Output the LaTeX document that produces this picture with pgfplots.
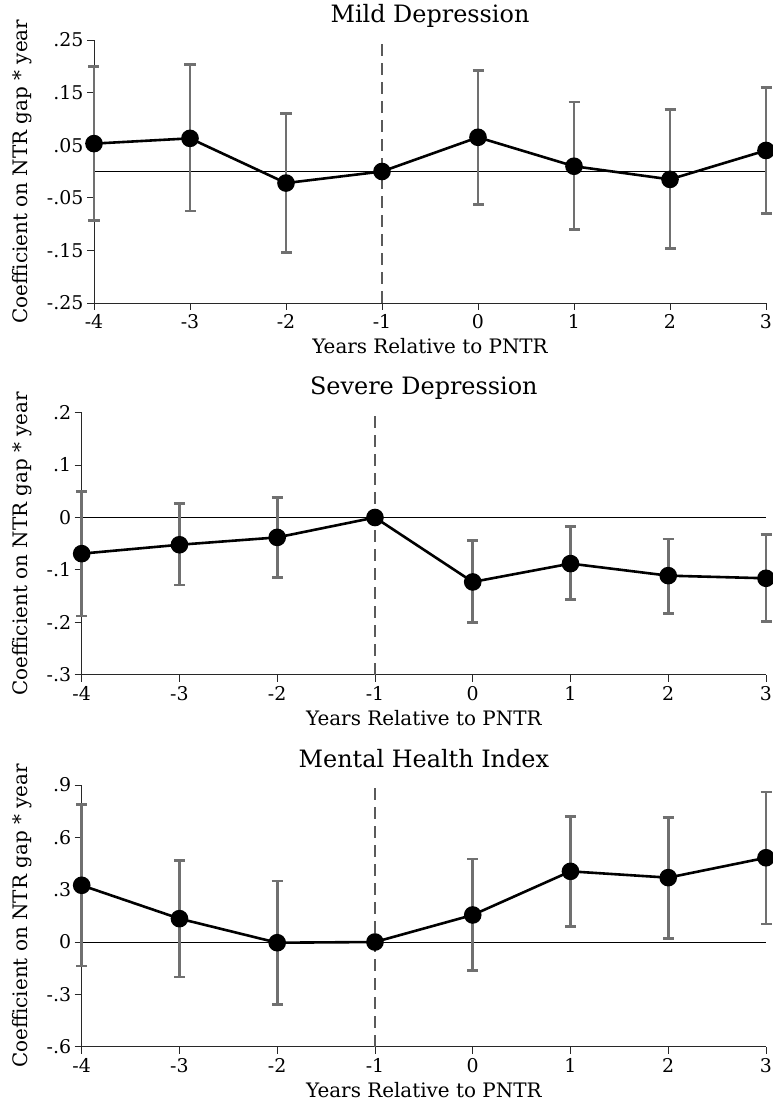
\documentclass[border=0pt]{standalone}
\usepackage{pgfplots}
\pgfplotsset{compat=1.18}
\usepackage{pgfplotstable}
\usepackage{fontspec}
\setmainfont{DejaVu Serif}

\definecolor{errgray}{RGB}{112,112,112}
\definecolor{dashgray}{RGB}{90,90,90}
\definecolor{axisc}{RGB}{40,40,40}

\pgfplotstableread{
x y lo hi
-4 0.053 -0.093 0.200
-3 0.063 -0.075 0.203
-2 -0.022 -0.154 0.110
-1 0.000 0.000 0.000
0 0.065 -0.062 0.192
1 0.010 -0.111 0.132
2 -0.015 -0.146 0.118
3 0.040 -0.080 0.160
}\mild

\pgfplotstableread{
x y lo hi
-4 -0.069 -0.188 0.049
-3 -0.052 -0.129 0.027
-2 -0.038 -0.115 0.038
-1 0.000 0.000 0.000
0 -0.123 -0.201 -0.044
1 -0.088 -0.157 -0.017
2 -0.111 -0.183 -0.041
3 -0.116 -0.199 -0.033
}\severe

\pgfplotstableread{
x y lo hi
-4 0.325 -0.138 0.790
-3 0.134 -0.201 0.468
-2 -0.004 -0.359 0.350
-1 0.000 0.000 0.000
0 0.155 -0.161 0.476
1 0.405 0.090 0.721
2 0.369 0.019 0.713
3 0.483 0.103 0.860
}\mhi

\pgfplotsset{
  panel/.style={
    scale only axis,
    xmin=-4, xmax=3,
    axis x line*=bottom, axis y line*=left,
    axis line style={-, line width=0.9bp, color=axisc},
    tick style={line width=0.9bp, color=axisc},
    tick align=outside,
    major tick length=7bp,
    xtick={-4,-3,-2,-1,0,1,2,3},
    xticklabels={-4,-3,-2,-1,0,1,2,3},
    ticklabel style={font=\fontsize{19}{19}\selectfont},
    xticklabel style={yshift=-1bp},
    clip=false,
    title style={at={(0.5,1)}, anchor=base, yshift=12bp, font=\fontsize{24}{28}\selectfont},
    xlabel style={at={(0.5,0)}, anchor=base, yshift=-51bp, font=\fontsize{20}{22}\selectfont},
    ylabel style={anchor=center, font=\fontsize{20}{22}\selectfont},
    xlabel={Years Relative to PNTR},
    ylabel={Coefficient on NTR gap * year},
  },
  errs/.style={draw=none, mark=none, forget plot,
    error bars/.cd, y dir=both, y explicit,
    error bar style={color=errgray, line width=2.8bp},
    error mark=-,
    error mark options={color=errgray, line width=2.8bp, mark size=5.5bp, rotate=90}},
  coefline/.style={black, line width=2.6bp, mark=*, mark size=7.5bp, mark options={fill=black, draw=black}},
}

\newcommand{\panelplots}[3]{%
  \addplot[black, line width=0.9bp, forget plot] coordinates {(-4,0) (3,0)};
  \addplot[dashgray, line width=1.4bp, dash pattern=on 12bp off 7bp, forget plot] coordinates {(-1,#2) (-1,#3)};
  \addplot[errs] table[x=x, y=y, y error plus expr={\thisrow{hi}-\thisrow{y}}, y error minus expr={\thisrow{y}-\thisrow{lo}}] {#1};
  \addplot[coefline] table[x=x, y=y] {#1};
}

\begin{document}
\begin{tikzpicture}
\path[use as bounding box] (0bp,0bp) rectangle (773bp,1103bp);

% Panel 1
\begin{axis}[panel, at={(94bp,800bp)}, anchor=south west, width=672bp, height=263bp,
  ymin=-0.25, ymax=0.25,
  ytick={-0.25,-0.15,-0.05,0.05,0.15,0.25},
  yticklabels={-.25,-.15,-.05,.05,.15,.25},
  ylabel style={at={(axis description cs:-0.1071,0.5)}},
  title={Mild Depression}]
\panelplots{\mild}{-0.25}{0.25}
\end{axis}

% Panel 2
\begin{axis}[panel, at={(81.7bp,428.3bp)}, anchor=south west, width=684.3bp, height=262bp,
  ymin=-0.3, ymax=0.2,
  ytick={-0.3,-0.2,-0.1,0,0.1,0.2},
  yticklabels={-.3,-.2,-.1,0,.1,.2},
  ylabel style={at={(axis description cs:-0.0872,0.5)}},
  title={Severe Depression}]
\panelplots{\severe}{-0.3}{0.2}
\end{axis}

% Panel 3
\begin{axis}[panel, at={(81.7bp,56.3bp)}, anchor=south west, width=684.3bp, height=261.7bp,
  ymin=-0.6, ymax=0.9,
  ytick={-0.6,-0.3,0,0.3,0.6,0.9},
  yticklabels={-.6,-.3,0,.3,.6,.9},
  ylabel style={at={(axis description cs:-0.0872,0.5)}},
  title={Mental Health Index}]
\panelplots{\mhi}{-0.6}{0.9}
\end{axis}
\end{tikzpicture}
\end{document}
